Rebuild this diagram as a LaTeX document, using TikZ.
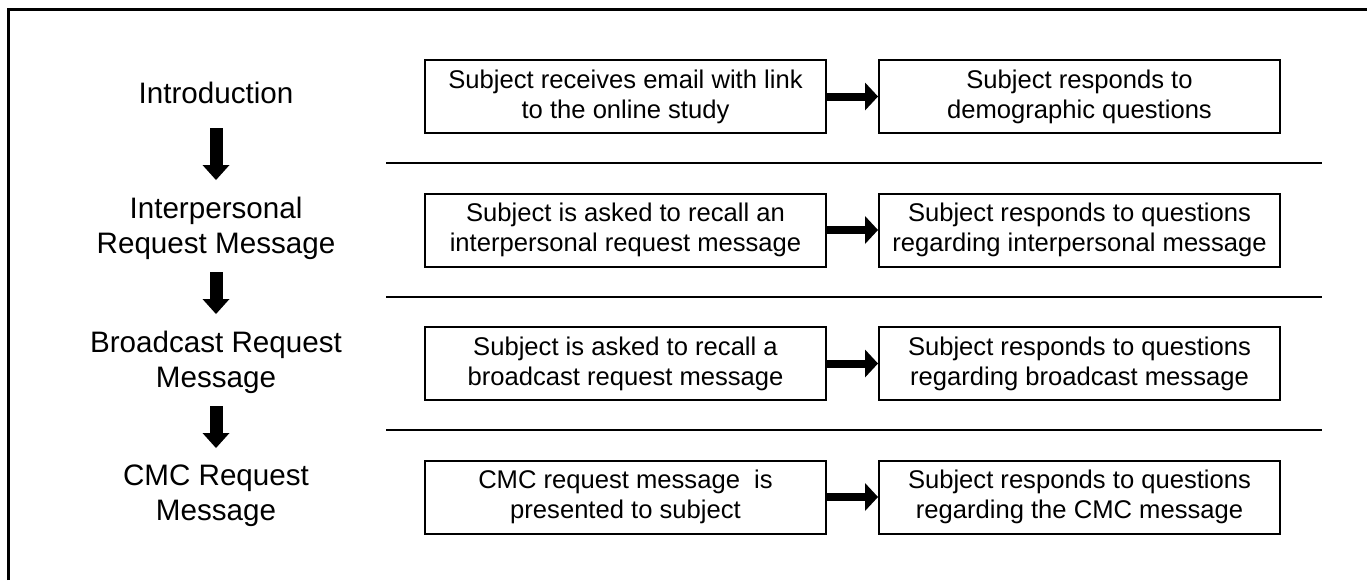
\documentclass[tikz,border=0pt]{standalone}
\usepackage{fontspec}
\setmainfont{Liberation Sans}
\usetikzlibrary{positioning, arrows.meta}
\tikzset{
    stepbox/.style={draw, line width=1pt, minimum width=200.5pt, minimum height=36.5pt, inner sep=0pt, align=center, font=\fontsize{12.8}{15}\selectfont},
    phase/.style={align=center, inner sep=0pt, font=\fontsize{14.8}{17.5}\selectfont},
    downarrow/.style={line width=6.5pt, -{Triangle[width=13.5pt,length=7.5pt,line width=0pt]}},
    rightarrow/.style={line width=4pt, -{Triangle[width=14pt,length=6.5pt,line width=0pt]}},
    sepline/.style={line width=1pt},
}

\begin{document}
\begin{tikzpicture}[x=0.5pt,y=-0.5pt]
            \useasboundingbox (0,0) rectangle (1367,580);
            \draw[line width=1.5pt] (8,580)--(8,9)--(1367,9);
            % phases on the left
            \node[phase] (intro) at (216,93) {Introduction};
            \node[phase] (interp) at (216,228) {Interpersonal\\Request Message};
            \node[phase] (bcast) at (216,362) {Broadcast Request\\Message};
            \node[phase] (cmc) at (216,496) {CMC Request\\Message};
            \draw[downarrow] ([yshift=-17.5pt]intro.center)--([yshift=24pt]interp.center);
            \draw[downarrow] ([yshift=-22pt]interp.center)--([yshift=24pt]bcast.center);
            \draw[downarrow] ([yshift=-22pt]bcast.center)--([yshift=24pt]cmc.center);
            % steps
            \node[stepbox] (emaillink) at (625.5,96.5) {Subject receives email with link\\to the online study};
            \node[stepbox, right=25.5pt of emaillink] (demogr) {Subject responds to\\demographic questions};
            \node[stepbox] (recallinter) at (625.5,230) {Subject is asked to recall an\\interpersonal request message};
            \node[stepbox, right=25.5pt of recallinter] (respinter) {Subject responds to questions\\regarding interpersonal message};
            \node[stepbox] (recallbcast) at (625.5,363.5) {Subject is asked to recall a\\broadcast request message};
            \node[stepbox, right=25.5pt of recallbcast] (respbcast) {Subject responds to questions\\regarding broadcast message};
            \node[stepbox] (cmcshown) at (625.5,497) {CMC request message\ \ is\\presented to subject};
            \node[stepbox, right=25.5pt of cmcshown] (respcmc) {Subject responds to questions\\regarding the CMC message};
            \draw[rightarrow] (emaillink)--(demogr);
            \draw[rightarrow] (recallinter)--(respinter);
            \draw[rightarrow] (recallbcast)--(respbcast);
            \draw[rightarrow] (cmcshown)--(respcmc);
            \foreach \y in {163,297,430}{
                \draw[sepline] (386,\y)--(1322,\y);
            }
        \end{tikzpicture}
\end{document}
